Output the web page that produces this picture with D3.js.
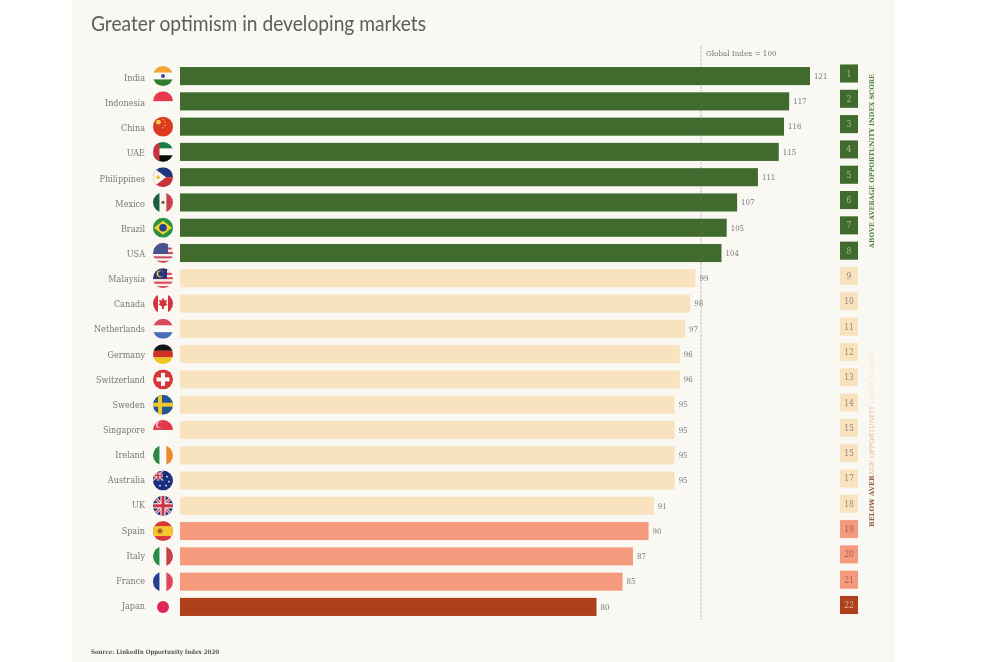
<!DOCTYPE html>
<html><head><meta charset="utf-8">
<script src="https://cdn.jsdelivr.net/npm/d3@7"></script>
<style>
html,body{margin:0;padding:0;background:#fff;}
svg{display:block;}
text{font-family:"DejaVu Serif Condensed","DejaVu Serif",serif;font-stretch:condensed;}
</style></head><body>
<svg id="c" width="988" height="662"></svg>
<script>
const countries=["India","Indonesia","China","UAE","Philippines","Mexico","Brazil","USA","Malaysia","Canada","Netherlands","Germany","Switzerland","Sweden","Singapore","Ireland","Australia","UK","Spain","Italy","France","Japan"];
const scores=[121,117,116,115,111,107,105,104,99,98,97,96,96,95,95,95,95,91,90,87,85,80];
const ranks=["1","2","3","4","5","6","7","8","9","10","11","12","13","14","15","15","17","18","19","20","21","22"];
const tiers=["above","above","above","above","above","above","above","above","below","below","below","below","below","below","below","below","below","below","low","low","low","lowest"];
const tierColors={above:"#3f6b2d",below:"#f9e3bf",low:"#f59a7c",lowest:"#ae411e"};
const rankText={above:"#a9bd9c",below:"#8f8a78",low:"#a8604a",lowest:"#e2b5a0"};
const globalIndex=100;

const svg=d3.select("#c");
const W=988,H=662;
svg.append("rect").attr("x",72).attr("y",0).attr("width",823).attr("height",H).attr("fill","#f9f8f3");

const x=d3.scaleLinear().domain([0,121]).range([180,810]);
const y=d3.scaleBand().domain(countries).range([63.5,619.5]).paddingInner(0.285).paddingOuter(0.14);
const labelY=d3.scalePoint().domain(countries).range([78,606]);
const rankY=d3.scalePoint().domain(countries).range([73.5,605]);
const bh=y.bandwidth();

const defs=svg.append("defs");
defs.append("clipPath").attr("id","flagClip").append("circle").attr("r",10);
const soft=defs.append("filter").attr("id","soft").attr("x","-5%").attr("y","-5%").attr("width","110%").attr("height","110%");
soft.append("feGaussianBlur").attr("stdDeviation",0.42);

// Flags in a local 20×20 box centred on 0,0
function rect(g,c,x0,y0,w,h){g.append("rect").attr("x",x0).attr("y",y0).attr("width",w).attr("height",h).attr("fill",c);}
function hbands(g,cols){const h=20/cols.length;cols.forEach((c,i)=>rect(g,c,-10,-10+i*h,20,h));}
function vbands(g,cols){const w=20/cols.length;cols.forEach((c,i)=>rect(g,c,-10+i*w,-10,w,20));}
function poly(g,c,p){g.append("polygon").attr("points",p).attr("fill",c);}
function dot(g,c,cx,cy,r){g.append("circle").attr("cx",cx).attr("cy",cy).attr("r",r).attr("fill",c);}
function stripes(g,a,b,n){const h=20/n;for(let i=0;i<n;i++)rect(g,i%2?b:a,-10,-10+i*h,20,h);}
function union(g){
  rect(g,"#29367a",-10,-10,20,20);
  const w=g.append("g").attr("fill","none");
  w.append("path").attr("d","M-10-10L10 10M10-10L-10 10").attr("stroke","#f6f3ee").attr("stroke-width",3);
  w.append("path").attr("d","M-10-10L10 10M10-10L-10 10").attr("stroke","#cf3045").attr("stroke-width",1.2);
  rect(g,"#f6f3ee",-2.6,-10,5.2,20);rect(g,"#f6f3ee",-10,-2.6,20,5.2);
  rect(g,"#cf3045",-1.5,-10,3,20);rect(g,"#cf3045",-10,-1.5,20,3);
}
const flags={
 India:g=>{hbands(g,["#f4a32e","#fafafa","#2f7d32"]);dot(g,"#3a4a8c",0,0,2);},
 Indonesia:g=>hbands(g,["#e8384f","#fbfaf7"]),
 China:g=>{rect(g,"#dc3a22",-10,-10,20,20);dot(g,"#f6c945",-4.5,-4.5,2.4);[[0,-7],[2,-4.5],[2,-1.5],[0,1]].forEach(p=>dot(g,"#f6c945",p[0],p[1],.7));},
 UAE:g=>{hbands(g,["#1d7c45","#fbfaf7","#111"]);rect(g,"#c8313c",-10,-10,6.5,20);},
 Philippines:g=>{rect(g,"#24357f",-10,-10,20,10);rect(g,"#c8313c",-10,0,20,10);poly(g,"#f8f6ee","-10,-10 3,0 -10,10");dot(g,"#f2c53d",-5,0,1.9);},
 Mexico:g=>{vbands(g,["#1b5d3f","#f8f6ee","#c8434d"]);dot(g,"#7d5a3a",0,0,1.6);},
 Brazil:g=>{rect(g,"#2b9140",-10,-10,20,20);poly(g,"#f5d22e","-9,0 0,-7 9,0 0,7");dot(g,"#25408f",0,0,3.8);},
 USA:g=>{stripes(g,"#c9485a","#f6efee",9);rect(g,"#4a5590",-10,-10,15,11);},
 Malaysia:g=>{stripes(g,"#d94a55","#f6efee",9);rect(g,"#26357f",-10,-10,14,10.5);dot(g,"#f3cc3a",-3,-4.5,3.4);dot(g,"#26357f",-2,-4.5,2.7);},
 Canada:g=>{vbands(g,["#d6303c","#fbfaf7","#fbfaf7","#d6303c"]);poly(g,"#d6303c","0,-6 1.5,-3 4,-3.5 3,0 4.5,1 1,3 1,5.5 -1,5.5 -1,3 -4.5,1 -3,0 -4,-3.5 -1.5,-3");},
 Netherlands:g=>hbands(g,["#d8495a","#fbfaf7","#4a6fb8"]),
 Germany:g=>hbands(g,["#141414","#d3302c","#f2c51f"]),
 Switzerland:g=>{rect(g,"#d8353a",-10,-10,20,20);rect(g,"#fbfaf7",-2,-6.5,4,13);rect(g,"#fbfaf7",-6.5,-2,13,4);},
 Sweden:g=>{rect(g,"#23598f",-10,-10,20,20);rect(g,"#f2c62f",-5,-10,4,20);rect(g,"#f2c62f",-10,-2,20,4);},
 Singapore:g=>{hbands(g,["#e2384a","#fbfaf7"]);dot(g,"#f7e5e5",-4,-5,3);dot(g,"#e2384a",-3,-5,2.6);},
 Ireland:g=>vbands(g,["#2c8a45","#fbfaf7","#ef8a2b"]),
 Australia:g=>{rect(g,"#1f2f80",-10,-10,20,20);const u=g.append("g").attr("transform","translate(-5,-5) scale(.5)");union(u);[[4,-4],[6,1],[3,5],[-3,5]].forEach(p=>dot(g,"#f6f3ee",p[0],p[1],.9));},
 UK:g=>union(g),
 Spain:g=>{rect(g,"#d8383a",-10,-10,20,20);rect(g,"#f5c62d",-10,-5,20,10);dot(g,"#b5642f",-3,0,2.5);},
 Italy:g=>vbands(g,["#2f8a4a","#fbfaf7","#c9404a"]),
 France:g=>vbands(g,["#27408f","#fbfaf7","#df4a55"]),
 Japan:g=>{rect(g,"#fbfaf7",-10,-10,20,20);dot(g,"#dd2755",0,0,6);}
};

const root=svg.append("g").attr("filter","url(#soft)");

root.append("text").attr("x",91).attr("y",30.5).attr("font-size",21)
  .attr("textLength",335).attr("lengthAdjust","spacingAndGlyphs")
  .style("font-family","Lato").style("font-stretch","normal").attr("fill","#5c5d5d").text("Greater optimism in developing markets");

// bars
const rows=root.append("g").selectAll("g").data(countries).join("g");
rows.append("rect").attr("x",x(0)).attr("y",d=>y(d)).attr("height",bh)
  .attr("width",(d,i)=>x(scores[i])-x(0)).attr("fill",(d,i)=>tierColors[tiers[i]]);
rows.append("text").attr("x",145).attr("y",d=>labelY(d)+3).attr("text-anchor","end")
  .attr("font-size",9).attr("fill","#77787a").text(d=>d);
rows.append("g").attr("transform",d=>`translate(163,${y(d)+bh/2})`).attr("clip-path","url(#flagClip)")
  .each(function(d){flags[d](d3.select(this));});
rows.append("text").attr("x",(d,i)=>x(scores[i])+4).attr("y",d=>y(d)+bh/2+2.8)
  .attr("font-size",7.8).attr("fill","#77787a").text((d,i)=>scores[i]);

// rank squares
rows.append("rect").attr("x",840).attr("y",d=>rankY(d)-bh/2).attr("width",18).attr("height",bh)
  .attr("fill",(d,i)=>tierColors[tiers[i]]);
rows.append("text").attr("x",849).attr("y",d=>rankY(d)+3).attr("text-anchor","middle")
  .attr("font-size",8.5).attr("fill",(d,i)=>rankText[tiers[i]]).text((d,i)=>ranks[i]);

// reference line
root.append("line").attr("x1",x(globalIndex)+.4).attr("x2",x(globalIndex)+.4).attr("y1",46).attr("y2",620)
  .attr("stroke","#6e7068").attr("stroke-opacity",.4).attr("stroke-width",1).attr("stroke-dasharray","3 1");
root.append("text").attr("x",706).attr("y",56).attr("font-size",8).attr("fill","#77787a").text("Global Index = "+globalIndex);

// side captions
root.append("text").attr("transform","translate(874,248) rotate(-90)").attr("font-size",6.5).attr("font-weight","bold")
  .attr("textLength",174).attr("lengthAdjust","spacingAndGlyphs").attr("fill","#4f7a3c").text("ABOVE AVERAGE OPPORTUNITY INDEX SCORE");
const below=root.append("text").attr("transform","translate(874,527) rotate(-90)").attr("font-size",6.5)
  .attr("textLength",174).attr("lengthAdjust","spacingAndGlyphs");
below.append("tspan").attr("font-weight","bold").attr("fill","#8f5a42").text("BELOW AVER");
below.append("tspan").attr("fill","#eab79c").text("AGE OPPORTUNITY ");
below.append("tspan").attr("fill","#f7e8cd").text("INDEX SCORE");

root.append("text").attr("x",91).attr("y",654).attr("font-size",6.2).attr("font-weight","bold")
  .attr("textLength",128).attr("lengthAdjust","spacingAndGlyphs")
  .attr("fill","#55565a").text("Source: LinkedIn Opportunity Index 2020");
</script></body></html>
